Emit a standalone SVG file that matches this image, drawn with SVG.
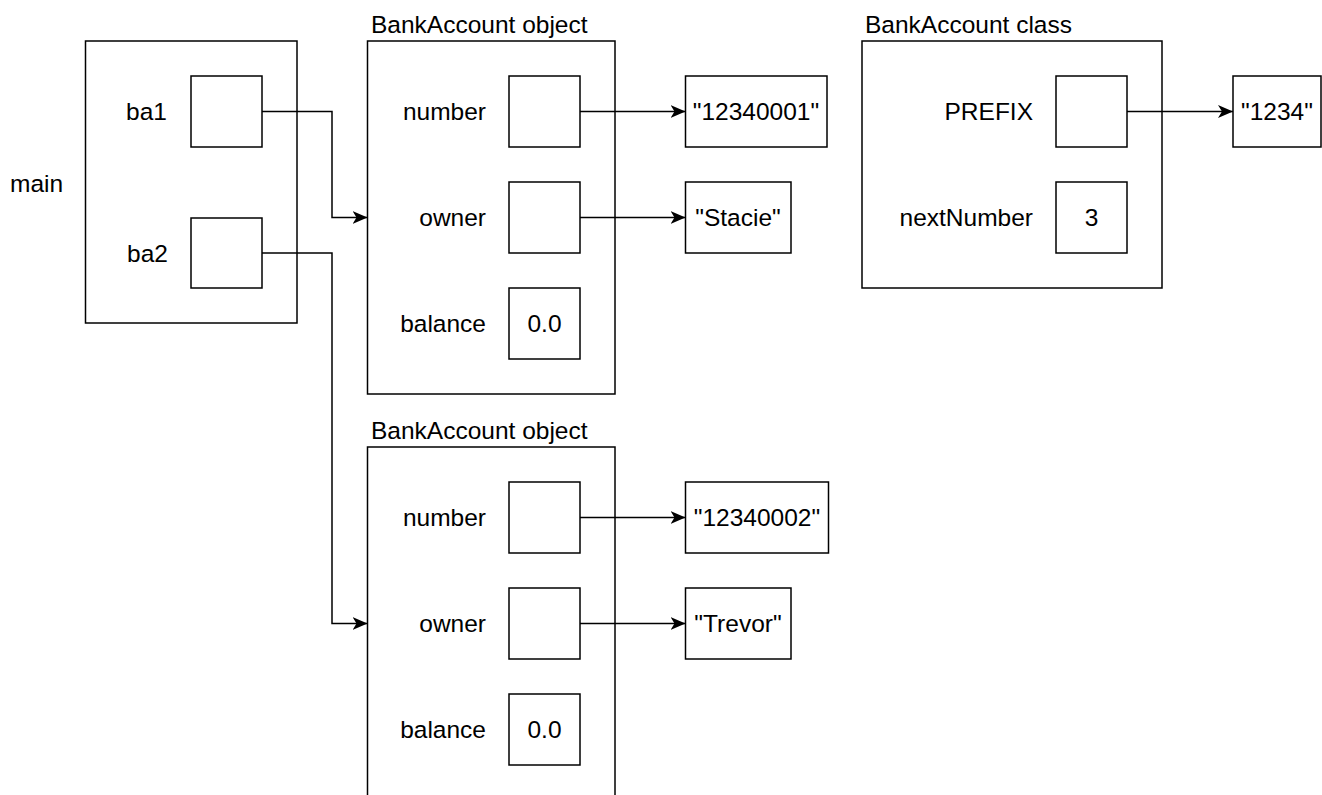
<svg xmlns="http://www.w3.org/2000/svg" width="1322" height="795" viewBox="0 0 1322 795">
<defs>
<marker id="arr" markerUnits="userSpaceOnUse" markerWidth="18" markerHeight="16" refX="15" refY="6.5" orient="auto">
<path d="M0,0 L15,6.5 L0,13 L4,6.5 Z" fill="#000"/>
</marker>
<style>
rect{fill:#fff;stroke:#000;stroke-width:1.5}
text{font-family:"Liberation Sans",Arial,Helvetica,sans-serif;font-size:24.5px;fill:#000}
.r{text-anchor:end}
.c{text-anchor:middle}
.conn path{fill:none;stroke:#000;stroke-width:1.5;marker-end:url(#arr)}
</style>
</defs>
<rect x="0" y="0" width="1322" height="795" style="stroke:none"/>
<g id="main">
<text x="10" y="192">main</text>
<rect x="85.5" y="41" width="211.5" height="282"/>
<text class="r" x="167" y="120">ba1</text>
<rect x="191" y="76" width="71" height="71"/>
<text class="r" x="168" y="262">ba2</text>
<rect x="191" y="218" width="71" height="70"/>
</g>
<g id="obj1">
<text x="371" y="32.5">BankAccount object</text>
<rect x="367.5" y="41" width="247.5" height="353"/>
<text class="r" x="486" y="120">number</text>
<rect x="509" y="76" width="71" height="71"/>
<text class="r" x="486" y="226">owner</text>
<rect x="509" y="182" width="71" height="71"/>
<text class="r" x="486" y="332">balance</text>
<rect x="509" y="288" width="71" height="71"/>
<text class="c" x="544.5" y="332">0.0</text>
</g>
<g id="obj2">
<text x="371" y="438.5">BankAccount object</text>
<rect x="367.5" y="447" width="247.5" height="360"/>
<text class="r" x="486" y="526">number</text>
<rect x="509" y="482" width="71" height="71"/>
<text class="r" x="486" y="632">owner</text>
<rect x="509" y="588" width="71" height="71"/>
<text class="r" x="486" y="738">balance</text>
<rect x="509" y="694" width="71" height="71"/>
<text class="c" x="544.5" y="738">0.0</text>
</g>
<g id="str1">
<rect x="685.5" y="76" width="141.5" height="71"/>
<text class="c" x="756" y="120">"12340001"</text>
</g>
<g id="str2">
<rect x="685.5" y="182" width="105.5" height="71"/>
<text class="c" x="738" y="226">"Stacie"</text>
</g>
<g id="str3">
<rect x="685.5" y="482" width="143" height="71"/>
<text class="c" x="757" y="526">"12340002"</text>
</g>
<g id="str4">
<rect x="685.5" y="588" width="105.5" height="71"/>
<text class="c" x="738" y="632">"Trevor"</text>
</g>
<g id="cls">
<text x="865" y="32.5">BankAccount class</text>
<rect x="862" y="41" width="300" height="247"/>
<text class="r" x="1033" y="120">PREFIX</text>
<rect x="1056" y="76" width="71" height="71"/>
<text class="r" x="1033" y="226">nextNumber</text>
<rect x="1056" y="182" width="71" height="71"/>
<text class="c" x="1091.5" y="226">3</text>
</g>
<g id="str5">
<rect x="1233" y="76" width="88" height="71"/>
<text class="c" x="1277" y="120">"1234"</text>
</g>
<g class="conn" id="connectors">
<path d="M262,111.5 H332 V217.5 H367.5"/>
<path d="M262,253 H332 V623.5 H367.5"/>
<path d="M580,111.5 H685.5"/>
<path d="M580,217.5 H685.5"/>
<path d="M580,517.5 H685.5"/>
<path d="M580,623.5 H685.5"/>
<path d="M1127,111.5 H1233"/>
</g>
</svg>
